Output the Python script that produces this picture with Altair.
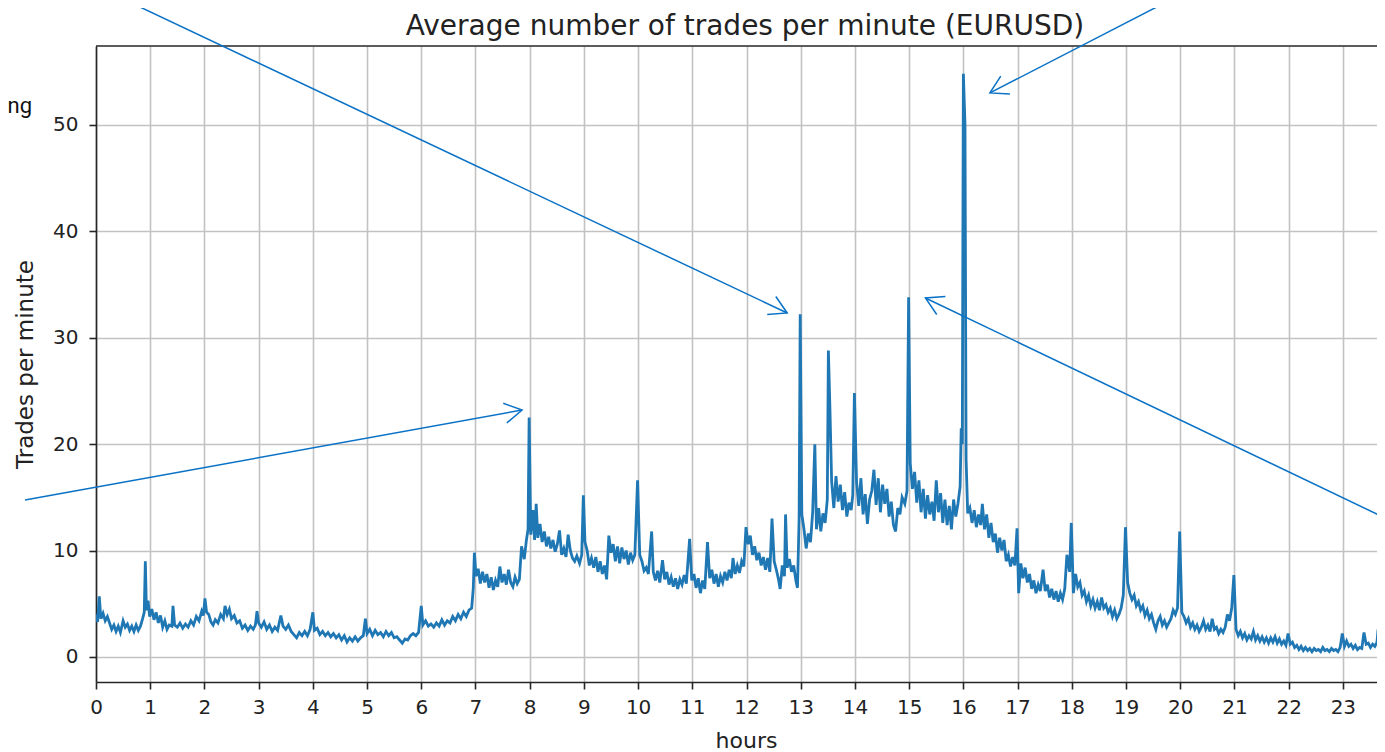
import math
import altair as alt
import pandas as pd

TITLE = "Average number of trades per minute (EURUSD)"
X_TITLE = "hours"
Y_TITLE = "Trades per minute"
SIDE_TEXT = "ng"

# ---- series (hour of day, average trades per minute) ----
hours_a = [0.00, 0.03, 0.06, 0.09, 0.13, 0.17, 0.21, 0.25, 0.29, 0.33, 0.37, 0.41, 0.45, 0.50, 0.54, 0.58, 0.62, 0.66, 0.70, 0.74, 0.78, 0.82, 0.86, 0.89, 0.91, 0.93, 0.96, 0.99,
           1.03, 1.07, 1.11, 1.15, 1.19, 1.23, 1.27, 1.31, 1.35, 1.40, 1.42, 1.45, 1.50, 1.55, 1.60, 1.65, 1.70, 1.75, 1.80, 1.85, 1.90, 1.95, 1.98,
           2.01, 2.04, 2.08, 2.12, 2.16, 2.20, 2.25, 2.30, 2.35, 2.38, 2.42, 2.46, 2.50, 2.55, 2.60, 2.65, 2.70, 2.75, 2.80, 2.85, 2.90, 2.94, 2.97,
           3.00, 3.05, 3.10, 3.15, 3.20, 3.25, 3.30, 3.35, 3.41, 3.45, 3.50, 3.55, 3.60, 3.65, 3.70, 3.75, 3.80, 3.85, 3.90, 3.95,
           4.00, 4.03, 4.08, 4.13, 4.18, 4.23, 4.28, 4.33, 4.38, 4.43, 4.48, 4.53, 4.58, 4.63, 4.68, 4.73, 4.78, 4.83, 4.88, 4.93, 4.97,
           5.00, 5.05, 5.10, 5.15, 5.20, 5.25, 5.30, 5.35, 5.40, 5.45, 5.50, 5.55, 5.60, 5.65, 5.70, 5.75, 5.80, 5.85, 5.90, 5.95,
           6.00, 6.03, 6.08, 6.13, 6.18, 6.23, 6.28, 6.33, 6.38, 6.43, 6.48, 6.53, 6.58, 6.63, 6.68, 6.73, 6.78, 6.83, 6.88, 6.93]
trades_a = [4.0, 3.3, 5.7, 3.6, 4.1, 3.4, 3.8, 3.2, 2.6, 3.0, 2.4, 2.9, 2.3, 3.4, 2.8, 3.1, 2.5, 2.9, 2.4, 3.0, 2.5, 2.9, 3.6, 4.2, 9.0, 4.4, 5.3, 3.8,
            4.5, 3.5, 4.2, 3.2, 3.9, 2.8, 3.4, 2.6, 3.0, 2.9, 4.8, 3.0, 2.8, 3.2, 2.7, 3.1, 2.8, 3.4, 3.0, 3.8, 3.4, 4.3, 3.9,
            5.5, 4.2, 4.0, 3.3, 3.0, 3.5, 3.2, 4.0, 3.6, 4.8, 4.0, 4.5, 3.6, 3.9, 3.2, 3.4, 2.7, 3.0, 2.5, 2.9, 2.6, 3.0, 4.3,
            3.2, 2.8, 3.3, 2.6, 3.0, 2.4, 2.8, 2.5, 3.9, 2.9, 2.6, 3.0, 2.4, 2.1, 1.8, 2.3, 2.0, 2.4, 2.0, 2.6,
            4.2, 2.5, 2.7, 2.1, 2.4, 2.0, 2.3, 1.9, 2.2, 1.8, 2.1, 1.6, 2.0, 1.4, 1.8, 1.5, 1.9, 1.5, 1.8, 2.0, 3.6,
            2.2, 2.6, 2.0, 2.5, 2.1, 2.3, 1.9, 2.4, 2.0, 2.3, 1.8, 1.9, 1.6, 1.3, 1.7, 1.6, 2.0, 2.2, 2.0, 2.3,
            4.8, 3.0, 3.4, 2.9, 3.1, 2.8, 3.2, 2.9, 3.5, 3.0, 3.4, 3.2, 3.8, 3.4, 4.0, 3.6, 4.2, 3.8, 4.4, 4.6]

hours_b = [6.96, 6.98, 7.01, 7.05, 7.09, 7.13, 7.17, 7.21, 7.25, 7.29, 7.33, 7.37, 7.41, 7.45, 7.49, 7.53, 7.57, 7.61, 7.65, 7.69, 7.73, 7.77, 7.81, 7.85, 7.90, 7.94, 7.97,
           7.99, 8.02, 8.06, 8.09, 8.12, 8.15, 8.19, 8.23, 8.27, 8.31, 8.35, 8.39, 8.43, 8.47, 8.51, 8.55, 8.59, 8.63, 8.67, 8.71, 8.75, 8.79, 8.83, 8.87, 8.92, 8.96,
           8.99, 9.02, 9.06, 9.10, 9.14, 9.18, 9.22, 9.26, 9.30, 9.34, 9.38, 9.42, 9.46, 9.50, 9.54, 9.58, 9.62, 9.66, 9.70, 9.74, 9.78, 9.82, 9.86, 9.90, 9.94,
           9.99, 10.03, 10.07, 10.11, 10.15, 10.19, 10.25, 10.28, 10.32, 10.36, 10.40, 10.45, 10.49, 10.53, 10.57, 10.61, 10.65, 10.69, 10.73, 10.77, 10.81, 10.85, 10.89, 10.95,
           10.99, 11.03, 11.07, 11.11, 11.15, 11.19, 11.23, 11.28, 11.32, 11.36, 11.40, 11.44, 11.48, 11.52, 11.56, 11.60, 11.64, 11.68, 11.72, 11.75, 11.79, 11.83, 11.87, 11.91, 11.95,
           11.99, 12.03, 12.07, 12.11, 12.15, 12.19, 12.23, 12.27, 12.31, 12.35, 12.39, 12.43, 12.47, 12.51, 12.55, 12.59, 12.62, 12.66, 12.70, 12.72, 12.75, 12.79, 12.83, 12.87, 12.91, 12.94]
trades_b = [6.5, 9.8, 7.6, 8.3, 6.9, 8.0, 7.0, 7.8, 6.5, 7.5, 6.3, 7.2, 6.6, 8.5, 7.0, 7.8, 6.8, 8.2, 7.0, 6.6, 7.5, 6.9, 7.3, 10.4, 9.2, 11.0, 12.0,
            22.5, 11.5, 13.8, 11.0, 14.4, 11.2, 12.5, 10.8, 11.8, 10.4, 11.3, 10.2, 11.0, 9.9, 10.6, 11.9, 9.6, 10.2, 9.4, 11.5, 10.0, 9.3, 9.0, 9.5, 8.8, 9.6,
            15.2, 10.8, 10.0, 8.6, 9.3, 8.4, 9.4, 8.0, 9.0, 7.8, 8.6, 7.3, 11.4, 9.8, 10.6, 9.0, 10.4, 8.8, 10.3, 9.2, 10.0, 8.7, 9.8, 9.1, 9.6,
            16.6, 9.6, 9.0, 8.1, 8.4, 7.8, 11.8, 8.0, 7.2, 8.1, 7.0, 9.1, 7.3, 8.0, 6.8, 7.5, 6.6, 7.4, 6.4, 7.3, 6.8, 7.7, 6.9, 11.1,
            7.2, 7.8, 6.5, 7.4, 6.0, 7.2, 6.4, 10.8, 7.4, 8.2, 6.9, 7.8, 6.6, 7.6, 7.0, 8.0, 7.2, 8.2, 7.4, 9.3, 7.8, 8.6, 7.9, 9.0, 8.5,
            12.2, 10.6, 11.4, 9.6, 10.4, 9.1, 9.8, 8.6, 9.4, 8.2, 9.3, 8.0, 13.0, 9.0, 8.2, 7.3, 6.4, 8.6, 7.6, 13.4, 8.4, 9.2, 8.0, 8.6, 7.2, 6.5]

hours_c = [12.97, 12.99, 13.02, 13.06, 13.10, 13.14, 13.18, 13.22, 13.26, 13.29, 13.33, 13.37, 13.41, 13.45, 13.49, 13.51, 13.54, 13.57, 13.61, 13.65, 13.69, 13.73, 13.77, 13.81, 13.85, 13.89, 13.93, 13.96,
           13.99, 14.03, 14.07, 14.11, 14.15, 14.19, 14.23, 14.27, 14.31, 14.35, 14.39, 14.43, 14.47, 14.51, 14.55, 14.59, 14.63, 14.67, 14.71, 14.75, 14.79, 14.83, 14.87, 14.92, 14.96,
           14.99, 15.02, 15.06, 15.10, 15.14, 15.18, 15.22, 15.26, 15.30, 15.34, 15.38, 15.42, 15.46, 15.50, 15.54, 15.58, 15.62, 15.66, 15.70, 15.74, 15.78, 15.82, 15.86, 15.90, 15.94, 15.96, 15.98,
           16.00, 16.03, 16.05, 16.08, 16.12, 16.16, 16.20, 16.24, 16.28, 16.32, 16.35, 16.39, 16.43, 16.47]
trades_c = [13.0, 32.2, 13.4, 12.0, 10.2, 11.6, 10.8, 13.6, 20.0, 12.0, 14.0, 11.8, 13.5, 12.6, 14.8, 28.8, 23.0, 16.5, 14.0, 17.0, 14.6, 16.2, 13.8, 15.5, 13.2, 14.5, 13.8, 15.2,
            24.8, 16.4, 14.2, 16.8, 13.4, 15.3, 12.5, 14.8, 15.6, 17.6, 14.3, 16.8, 13.6, 16.2, 14.4, 15.8, 13.2, 14.6, 12.4, 11.8, 14.0, 13.4, 15.0, 14.4, 15.6,
            33.8, 18.2, 15.8, 17.4, 14.5, 16.6, 13.6, 15.8, 13.0, 15.2, 13.4, 14.6, 12.8, 16.6, 13.6, 15.4, 12.6, 14.8, 12.4, 14.2, 12.0, 14.8, 13.2, 14.4, 16.0, 21.5, 20.0,
            54.8, 50.0, 18.6, 13.5, 14.0, 12.6, 13.8, 12.2, 13.4, 12.4, 14.4, 12.0, 13.4, 11.2]

hours_d = [16.51, 16.55, 16.59, 16.63, 16.67, 16.71, 16.75, 16.79, 16.83, 16.87, 16.91, 16.95,
           16.99, 17.02, 17.06, 17.10, 17.14, 17.18, 17.22, 17.26, 17.30, 17.34, 17.38, 17.42, 17.47, 17.51, 17.55, 17.59, 17.63, 17.67, 17.71, 17.75, 17.79, 17.83, 17.87, 17.91, 17.96,
           17.99, 18.03, 18.07, 18.11, 18.15, 18.19, 18.23, 18.27, 18.31, 18.35, 18.39, 18.43, 18.47, 18.51, 18.55, 18.59, 18.63, 18.67, 18.71, 18.75, 18.79, 18.83, 18.87, 18.91, 18.95,
           18.99, 19.03, 19.07, 19.11, 19.15, 19.19, 19.23, 19.27, 19.31, 19.35, 19.39, 19.43, 19.47, 19.51, 19.55, 19.59, 19.63, 19.67, 19.71, 19.75, 19.79, 19.83, 19.87, 19.91, 19.95,
           19.99, 20.03, 20.07, 20.11, 20.15, 20.19, 20.23, 20.27, 20.31, 20.35, 20.39, 20.43, 20.47, 20.51, 20.55, 20.59, 20.63, 20.67, 20.71, 20.75, 20.79, 20.83, 20.87, 20.91, 20.95,
           20.99, 21.03, 21.07, 21.11, 21.15, 21.19, 21.23, 21.27, 21.31, 21.35, 21.39, 21.43, 21.47, 21.51, 21.55, 21.59, 21.63, 21.67, 21.71, 21.75, 21.79, 21.83, 21.87, 21.91, 21.95,
           21.99, 22.03, 22.07, 22.11, 22.15, 22.19, 22.23, 22.27, 22.31, 22.35, 22.39, 22.43, 22.47, 22.51, 22.55, 22.59, 22.63, 22.67, 22.71, 22.75, 22.79, 22.83, 22.87, 22.91, 22.95,
           22.99, 23.03, 23.07, 23.11, 23.15, 23.19, 23.23, 23.27, 23.31, 23.35, 23.39, 23.43, 23.47, 23.51, 23.55, 23.59, 23.63, 23.65, 23.68, 23.72, 23.75, 23.78]
trades_d = [12.6, 10.8, 11.6, 9.8, 11.2, 10.0, 11.0, 9.0, 9.6, 8.5, 9.4, 8.6,
            12.1, 6.0, 8.8, 7.4, 8.4, 7.0, 7.8, 6.4, 7.2, 6.0, 6.8, 6.2, 8.2, 6.2, 6.8, 5.6, 6.4, 5.4, 6.2, 5.2, 6.0, 5.4, 6.4, 9.6, 8.0,
            12.6, 6.0, 7.8, 6.6, 7.0, 5.8, 6.2, 5.2, 5.8, 4.8, 5.4, 4.6, 5.2, 4.4, 5.6, 4.6, 4.9, 4.2, 4.6, 3.8, 4.4, 3.6, 4.0, 4.6, 5.8,
            12.2, 7.0, 6.0, 5.4, 5.8, 4.8, 5.2, 4.4, 4.8, 3.9, 4.4, 3.6, 4.0, 3.2, 2.6, 3.4, 3.8, 3.0, 3.4, 2.8, 3.2, 3.6, 4.4, 4.0, 4.6,
            11.8, 4.2, 3.8, 3.2, 3.6, 2.8, 3.2, 2.6, 3.0, 2.4, 2.8, 3.4, 2.6, 3.0, 2.4, 3.6, 2.6, 2.8, 2.2, 2.6, 2.3, 2.8, 4.0, 3.4, 4.6,
            7.7, 2.6, 2.0, 2.4, 1.8, 2.2, 1.6, 2.0, 1.7, 2.4, 1.6, 2.0, 1.5, 1.9, 1.4, 1.8, 1.3, 1.8, 1.4, 1.9, 1.3, 1.7, 1.2, 1.5, 1.1,
            2.2, 1.2, 1.4, 0.9, 1.1, 0.7, 1.0, 0.6, 0.9, 0.6, 0.8, 0.5, 0.8, 0.6, 0.7, 0.5, 0.9, 0.6, 0.7, 0.5, 0.8, 0.6, 0.7, 0.5, 0.9,
            2.2, 1.0, 1.5, 1.0, 1.2, 0.8, 1.1, 0.7, 0.9, 0.8, 2.3, 1.2, 1.3, 0.9, 1.2, 1.0, 1.4, 2.6, 1.6, 1.2, 2.4, 1.2]

hour_ticks = list(range(24))
trade_ticks = [0, 10, 20, 30, 40, 50]

# annotation arrows, in data units (start -> arrow tip)
arrow_hour_start = [0.535, 19.82, -1.31, 23.78]
arrow_value_start = [61.75, 61.75, 14.76, 13.06]
arrow_hour_end = [12.75, 16.49, 7.86, 15.30]
arrow_value_end = [32.33, 53.01, 23.21, 33.74]

# ---- layout / style ----
X_DOMAIN = [0, 23.63]
Y_DOMAIN = [-2.35, 57.42]
W, H = 1281, 636
LINE_COLOR = "#1f77b4"
ARROW_COLOR = "#0a72c6"
TEXT_COLOR = "#222222"
FONT = "DejaVu Sans"
ARROW_SHAPE = "M-0.866,-0.5L0,0L-0.866,0.5"

for hs, ts in [(hours_a, trades_a), (hours_b, trades_b), (hours_c, trades_c), (hours_d, trades_d)]:
    assert len(hs) == len(ts), (len(hs), len(ts))

series = pd.DataFrame({
    "hour": hours_a + hours_b + hours_c + hours_d,
    "trades": trades_a + trades_b + trades_c + trades_d,
})

px_per_hour = W / (X_DOMAIN[1] - X_DOMAIN[0])
px_per_unit = H / (Y_DOMAIN[1] - Y_DOMAIN[0])
angles = []
for xs, ys, xe, ye in zip(arrow_hour_start, arrow_value_start, arrow_hour_end, arrow_value_end):
    dx = (xe - xs) * px_per_hour
    dy = -(ye - ys) * px_per_unit
    angles.append(math.degrees(math.atan2(dy, dx)) % 360)

arrows = pd.DataFrame({
    "x0": arrow_hour_start, "y0": arrow_value_start,
    "x1": arrow_hour_end, "y1": arrow_value_end,
    "ang": angles,
})

x_scale = alt.Scale(domain=X_DOMAIN, nice=False, zero=False)
y_scale = alt.Scale(domain=Y_DOMAIN, nice=False, zero=False)

common_axis = dict(
    grid=True, gridColor="#c2c2c2", gridWidth=1.6,
    domainColor="#262626", domainWidth=1.6,
    tickColor="#262626", tickWidth=1.6, tickSize=7,
    labelFont=FONT, labelFontSize=20, labelColor=TEXT_COLOR,
    titleFont=FONT, titleFontWeight="normal", titleColor=TEXT_COLOR,
    labelOverlap=False, labelFlush=False, zindex=0, format="d",
)

x_axis = alt.Axis(values=hour_ticks, title=X_TITLE, labelPadding=8, titleFontSize=22,
                  titleX=650, titleY=65, titleBaseline="alphabetic", titleAlign="center",
                  **common_axis)
y_axis = alt.Axis(values=trade_ticks, title=Y_TITLE, labelPadding=11, titleFontSize=23,
                  titleX=-71, titleY=H / 2, titleBaseline="middle", titleAlign="center",
                  **common_axis)

line = alt.Chart(series).mark_line(color=LINE_COLOR, strokeWidth=2.8, clip=True).encode(
    x=alt.X("hour:Q", scale=x_scale, axis=x_axis),
    y=alt.Y("trades:Q", scale=y_scale, axis=y_axis),
)

top_spine = alt.Chart(pd.DataFrame({"k": [0]})).mark_rule(color="#262626", strokeWidth=1.6).encode(
    x=alt.value(0), x2=alt.value(W), y=alt.value(0)
)

arrow_lines = alt.Chart(arrows).mark_rule(color=ARROW_COLOR, strokeWidth=1.5).encode(
    x=alt.X("x0:Q", scale=x_scale), y=alt.Y("y0:Q", scale=y_scale),
    x2="x1:Q", y2="y1:Q",
)

arrow_heads = alt.Chart(arrows).mark_point(
    shape=ARROW_SHAPE, size=1600, filled=False, strokeWidth=1.5,
    color=ARROW_COLOR, opacity=1,
).encode(
    x=alt.X("x1:Q", scale=x_scale), y=alt.Y("y1:Q", scale=y_scale),
    angle=alt.Angle("ang:Q", scale=None),
)

title_text = alt.Chart(pd.DataFrame({"t": [TITLE]})).mark_text(
    font=FONT, fontSize=28, align="center", baseline="alphabetic", color=TEXT_COLOR,
).encode(x=alt.value(649), y=alt.value(-11), text="t:N")

side_text = alt.Chart(pd.DataFrame({"t": [SIDE_TEXT]})).mark_text(
    font="Roboto", fontSize=22, align="right", baseline="alphabetic", color="#111111",
).encode(x=alt.value(-64), y=alt.value(67), text="t:N")

chart = alt.layer(line, top_spine, arrow_lines, arrow_heads, title_text, side_text).properties(
    width=W, height=H,
    padding={"left": 88, "top": 38, "right": 0, "bottom": 70},
    autosize=alt.AutoSizeParams(type="none"),
    background="white",
).configure_view(stroke=None)

chart.save("out.html", embed_options={"renderer": "svg", "actions": False})
